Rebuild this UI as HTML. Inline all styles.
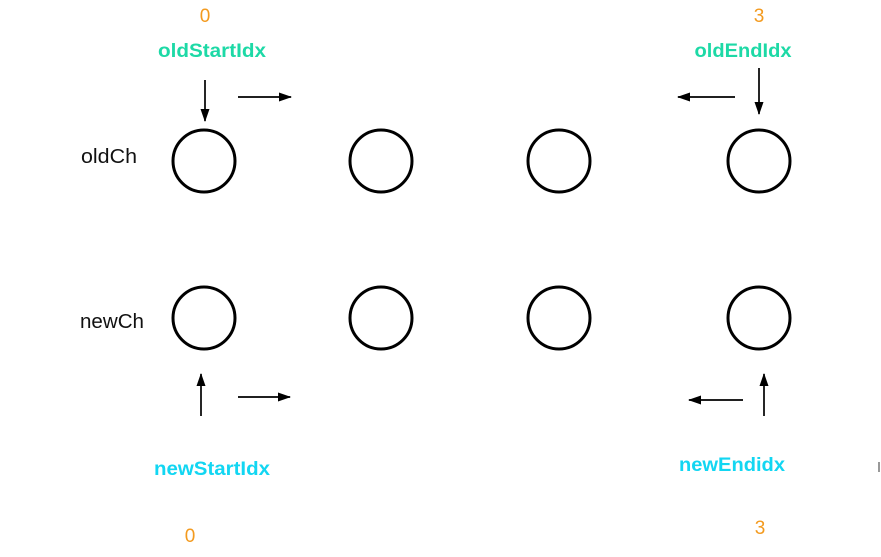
<!DOCTYPE html>
<html><head><style>
body{margin:0;background:#fff;width:881px;height:552px;overflow:hidden}
</style></head><body>
<svg width="881" height="552" viewBox="0 0 881 552" xmlns="http://www.w3.org/2000/svg">
<defs><marker id="a" markerWidth="13" markerHeight="9" refX="12" refY="4.5" orient="auto" markerUnits="userSpaceOnUse"><path d="M0,0 L13,4.5 L0,9 z" fill="#000"/></marker></defs>
<g font-family="Liberation Sans, sans-serif" font-size="19" text-anchor="middle">
<text x="205" y="22" fill="#f39a1e">0</text>
<text x="212" y="57" fill="#1dd9a6" font-weight="bold" textLength="108" lengthAdjust="spacingAndGlyphs">oldStartIdx</text>
<text x="759" y="22" fill="#f39a1e">3</text>
<text x="743" y="57" fill="#1dd9a6" font-weight="bold" textLength="97" lengthAdjust="spacingAndGlyphs">oldEndIdx</text>
<text x="109" y="163" fill="#111" font-size="20" textLength="56" lengthAdjust="spacingAndGlyphs">oldCh</text>
<text x="112" y="328" fill="#111" font-size="20" textLength="64" lengthAdjust="spacingAndGlyphs">newCh</text>
<text x="212" y="475" fill="#12d6f2" font-weight="bold" textLength="116" lengthAdjust="spacingAndGlyphs">newStartIdx</text>
<text x="732" y="471" fill="#12d6f2" font-weight="bold" textLength="106" lengthAdjust="spacingAndGlyphs">newEndidx</text>
<text x="190" y="542" fill="#f39a1e">0</text>
<text x="760" y="534" fill="#f39a1e">3</text>
</g>
<g fill="none" stroke="#000" stroke-width="3">
<circle cx="204" cy="161" r="31"/><circle cx="381" cy="161" r="31"/><circle cx="559" cy="161" r="31"/><circle cx="759" cy="161" r="31"/>
<circle cx="204" cy="318" r="31"/><circle cx="381" cy="318" r="31"/><circle cx="559" cy="318" r="31"/><circle cx="759" cy="318" r="31"/>
</g>
<g stroke="#000" stroke-width="1.7" marker-end="url(#a)">
<line x1="205" y1="80" x2="205" y2="121"/>
<line x1="238" y1="97" x2="291" y2="97"/>
<line x1="735" y1="97" x2="678" y2="97"/>
<line x1="759" y1="68" x2="759" y2="114"/>
<line x1="201" y1="416" x2="201" y2="374"/>
<line x1="238" y1="397" x2="290" y2="397"/>
<line x1="743" y1="400" x2="689" y2="400"/>
<line x1="764" y1="416" x2="764" y2="374"/>
</g>
<rect x="878" y="462" width="2" height="10" fill="#999"/>
</svg>
</body></html>
